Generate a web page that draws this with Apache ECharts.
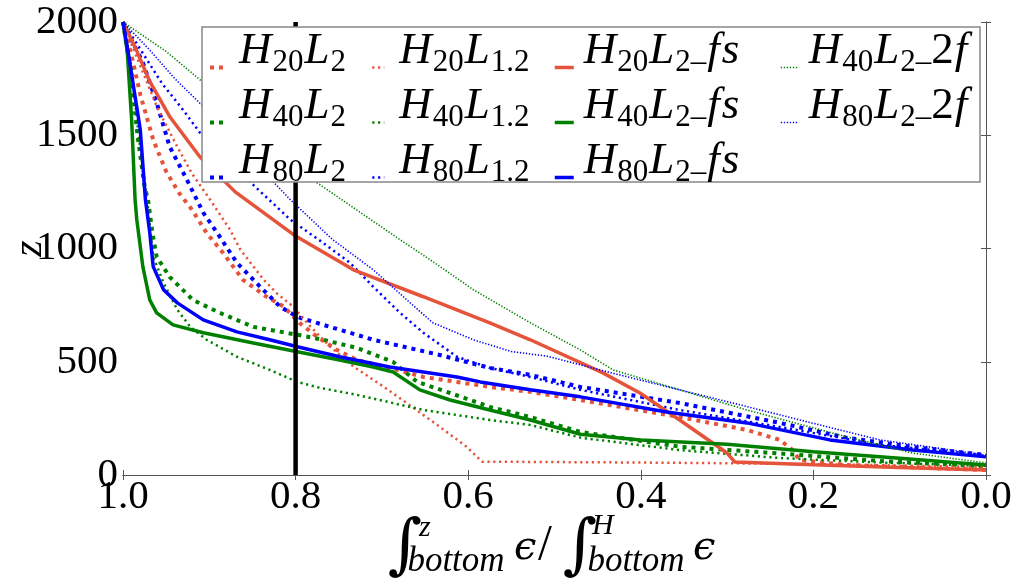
<!DOCTYPE html>
<html><head><meta charset="utf-8">
<script src="https://cdn.jsdelivr.net/npm/echarts@6/dist/echarts.min.js"></script>
<style>html,body{margin:0;padding:0;background:#fff}#c{width:1016px;height:582px}</style>
</head><body><div id="c"></div>
<script>
// ---------------- DATA ----------------
const xTickLabels = ['0.0', '0.2', '0.4', '0.6', '0.8', '1.0'];
const yTickLabels = ['0', '500', '1000', '1500', '2000'];
const refLine = [[0.8, 0], [0.8, 2000]];

const H20L2 = [[1.0,2000],[0.99,1850],[0.98,1680],[0.965,1480],[0.95,1340],[0.935,1245],[0.92,1171],[0.903,1068],[0.884,980],[0.861,862],[0.834,788],[0.814,744],[0.795,670],[0.775,610],[0.752,552],[0.729,508],[0.691,473],[0.652,433],[0.613,411],[0.575,389],[0.528,367],[0.47,331],[0.355,256],[0.277,199],[0.239,155],[0.224,110],[0.216,66],[0.161,44],[0.0,22]];
const H40L2 = [[1.0,2000],[0.99,1746],[0.983,1494],[0.975,1273],[0.971,1215],[0.966,1070],[0.961,964],[0.946,875],[0.919,773],[0.888,716],[0.849,654],[0.798,619],[0.768,597],[0.729,561],[0.687,499],[0.659,411],[0.621,362],[0.575,301],[0.528,256],[0.47,190],[0.355,125],[0.239,95],[0.123,62],[0.0,38]];
const H80L2 = [[1.0,2000],[0.99,1920],[0.977,1821],[0.961,1644],[0.946,1450],[0.926,1304],[0.907,1158],[0.891,1070],[0.868,937],[0.841,831],[0.818,743],[0.798,698],[0.768,663],[0.71,597],[0.633,530],[0.575,473],[0.528,442],[0.47,389],[0.355,318],[0.239,230],[0.161,164],[0.085,124],[0.0,88]];
const H20L1_2 = [[1.0,2000],[0.99,1900],[0.975,1760],[0.96,1620],[0.94,1470],[0.92,1330],[0.899,1215],[0.876,1083],[0.864,995],[0.849,921],[0.837,862],[0.822,803],[0.803,744],[0.783,656],[0.76,567],[0.733,479],[0.698,390],[0.671,317],[0.633,213],[0.602,125],[0.584,59],[0.4,55],[0.3,52],[0.2,48],[0.1,42],[0.0,35]];
const H40L1_2 = [[1.0,2000],[0.99,1800],[0.982,1500],[0.975,1300],[0.972,1215],[0.965,964],[0.953,848],[0.937,729],[0.922,654],[0.903,597],[0.868,522],[0.83,464],[0.798,411],[0.772,385],[0.729,354],[0.652,287],[0.575,243],[0.528,221],[0.47,165],[0.355,110],[0.239,75],[0.123,55],[0.0,40]];
const H80L1_2 = [[1.0,2000],[0.98,1880],[0.955,1730],[0.93,1610],[0.911,1512],[0.86,1320],[0.806,1127],[0.77,1030],[0.737,937],[0.71,831],[0.679,716],[0.652,628],[0.613,522],[0.575,473],[0.528,433],[0.47,376],[0.355,287],[0.239,212],[0.123,133],[0.0,88]];
const H20L2_fs = [[1.0,2000],[0.985,1880],[0.969,1738],[0.946,1583],[0.911,1405],[0.87,1250],[0.8,1055],[0.733,906],[0.652,787],[0.575,672],[0.528,597],[0.444,451],[0.401,362],[0.355,243],[0.3,97],[0.291,57],[0.2,45],[0.1,33],[0.0,22]];
const H40L2_fs = [[1.0,2000],[0.995,1865],[0.99,1569],[0.986,1215],[0.984,1127],[0.977,920],[0.969,773],[0.961,716],[0.942,663],[0.907,628],[0.849,583],[0.798,544],[0.749,508],[0.71,477],[0.687,455],[0.656,376],[0.621,331],[0.575,287],[0.528,243],[0.47,180],[0.4,155],[0.3,136],[0.2,103],[0.1,74],[0.0,44]];
const H80L2_fs = [[1.0,2000],[0.994,1865],[0.98,1525],[0.974,1215],[0.969,1070],[0.965,920],[0.953,818],[0.937,760],[0.907,685],[0.868,632],[0.83,597],[0.798,566],[0.749,522],[0.691,477],[0.613,433],[0.586,411],[0.528,376],[0.47,345],[0.37,278],[0.277,230],[0.181,155],[0.085,110],[0.0,80]];
const H40L2_2f = [[1.0,2000],[0.95,1870],[0.907,1733],[0.85,1530],[0.775,1290],[0.679,1039],[0.644,950],[0.594,818],[0.528,672],[0.47,552],[0.432,464],[0.277,287],[0.161,168],[0.085,97],[0.0,53]];
const H80L2_2f = [[1.0,2000],[0.97,1880],[0.94,1750],[0.907,1627],[0.86,1430],[0.806,1215],[0.757,1039],[0.71,906],[0.671,773],[0.641,672],[0.594,597],[0.55,545],[0.509,525],[0.432,449],[0.355,376],[0.277,302],[0.2,228],[0.123,155],[0.0,88]];

const seriesNames = ['H20L2','H40L2','H80L2','H20L1.2','H40L1.2','H80L1.2','H20L2_fs','H40L2_fs','H80L2_fs','H40L2_2f','H80L2_2f'];
const seriesValues = [H20L2,H40L2,H80L2,H20L1_2,H40L1_2,H80L1_2,H20L2_fs,H40L2_fs,H80L2_fs,H40L2_2f,H80L2_2f];
const legendColumns = [
  ['H20L2','H40L2','H80L2'],
  ['H20L1.2','H40L1.2','H80L1.2'],
  ['H20L2_fs','H40L2_fs','H80L2_fs'],
  ['H40L2_2f','H80L2_2f']
];

// ---------------- STYLE ----------------
const RED = '#E5533A', GREEN = '#008000', BLUE = '#0000FF';
const colorOf = n => n.startsWith('H20') ? RED : n.startsWith('H40') ? GREEN : BLUE;
const lineOf = n => {
  if (n.endsWith('_fs')) return { width: 3.5, type: 'solid' };
  if (n.endsWith('_2f')) return { width: 1.6, type: [1.3, 1.7] };
  if (n.includes('L1.2')) return { width: 2.5, type: [2.2, 3.6] };
  return { width: 4, type: [4, 5] };
};
const SERIF = '"Liberation Serif", "DejaVu Serif", serif';

function legendLabel(name) {
  const m = name.match(/^H(\d+)L([\d.]+)(?:_(\w+))?$/);
  let s = '{i|H}{s|' + m[1] + '}{i|L}{s|' + m[2] + (m[3] ? '\u2013' : '') + '}';
  if (m[3] === 'fs') s += '{i|f}{i|s}';
  else if (m[3] === '2f') s += '{n|2}{i|f}';
  return s;
}
const rich = {
  i: { fontFamily: SERIF, fontStyle: 'italic', fontSize: 45, lineHeight: 52, height: 20, verticalAlign: 'top', color: '#000', padding: [0, 1, 0, 1] },
  n: { fontFamily: SERIF, fontSize: 45, lineHeight: 52, height: 20, verticalAlign: 'top', color: '#000' },
  s: { fontFamily: SERIF, fontSize: 31, lineHeight: 52, height: 42, verticalAlign: 'top', color: '#000' }
};
const legendLayout = [
  { left: 208, itemWidth: 14, pad: 9 },
  { left: 371, itemWidth: 12, pad: 9 },
  { left: 553, itemWidth: 19, pad: 4 },
  { left: 780, itemWidth: 17, pad: 5 }
];

const series = seriesNames.map((n, k) => ({
  name: n, type: 'line', data: seriesValues[k], showSymbol: false, symbol: 'none',
  animation: false, silent: true, z: 2,
  lineStyle: Object.assign({ color: colorOf(n) }, lineOf(n)),
  itemStyle: { color: colorOf(n) }
}));
series.push({
  name: 'ref', type: 'line', data: refLine, showSymbol: false, symbol: 'none',
  animation: false, silent: true, z: 3,
  lineStyle: { color: '#000', width: 4.5 }
});

const legends = legendColumns.map((col, k) => ({
  data: col, orient: 'vertical', left: legendLayout[k].left, top: 29, padding: 0,
  itemGap: 0.5, itemWidth: legendLayout[k].itemWidth, itemHeight: 6,
  selectedMode: false, z: 6,
  itemStyle: { opacity: 0, borderWidth: 0 },
  lineStyle: { width: 'inherit', type: 'inherit' },
  formatter: legendLabel,
  textStyle: { padding: [0, 0, 0, legendLayout[k].pad], rich: rich }
}));

const axisCommon = {
  type: 'value', splitLine: { show: false },
  axisLine: { show: true, lineStyle: { color: '#555', width: 1 } },
  axisTick: { show: true, inside: true, length: 5, lineStyle: { color: '#555' } }
};

const option = {
  backgroundColor: '#fff',
  animation: false,
  grid: { left: 123, right: 30, top: 22, bottom: 107, containLabel: false, outerBoundsMode: 'none' },
  xAxis: [
    Object.assign({}, axisCommon, {
      min: 0, max: 1, interval: 0.2, inverse: true, position: 'bottom',
      axisLabel: { margin: 2, color: '#000', fontFamily: SERIF, fontSize: 41,
        formatter: v => xTickLabels[Math.round(v * 5)] }
    }),
    Object.assign({}, axisCommon, {
      min: 0, max: 1, interval: 0.2, inverse: true, position: 'top',
      axisLabel: { show: false }
    })
  ],
  yAxis: [
    Object.assign({}, axisCommon, {
      min: 0, max: 2000, interval: 500, position: 'left',
      name: 'z', nameLocation: 'middle', nameRotate: 90, nameGap: 93, nameMoveOverlap: false,
      nameTextStyle: { fontFamily: SERIF, fontStyle: 'italic', fontSize: 42, color: '#000', verticalAlign: 'middle' },
      axisLabel: { margin: 5, color: '#000', fontFamily: SERIF, fontSize: 41,
        formatter: v => yTickLabels[Math.round(v / 500)] }
    }),
    Object.assign({}, axisCommon, {
      min: 0, max: 2000, interval: 500, position: 'right',
      axisLabel: { show: false }
    })
  ],
  legend: legends,
  graphic: [
    { type: 'rect', z: 5, silent: true,
      shape: { x: 202, y: 27, width: 778, height: 155 },
      style: { fill: '#fff', stroke: '#888', lineWidth: 1.5 } },
    { type: 'group', silent: true, children: [
      { type: 'text', x: 405, y: 549, style: { text: '\u222B', font: '66px "DejaVu Serif"', fill: '#000', textAlign: 'center', textVerticalAlign: 'middle' } },
      { type: 'text', x: 419, y: 528, style: { text: 'z', font: 'italic 30px ' + SERIF, fill: '#000', textAlign: 'left', textVerticalAlign: 'middle' } },
      { type: 'text', x: 456, y: 562, style: { text: 'bottom', font: 'italic 35px ' + SERIF, fill: '#000', textAlign: 'center', textVerticalAlign: 'middle' } },
      { type: 'text', x: 514, y: 549, style: { text: '\u03F5', font: 'italic 40px "DejaVu Serif"', fill: '#000', textAlign: 'left', textVerticalAlign: 'middle' } },
      { type: 'text', x: 538, y: 546, style: { text: '/', font: '50px ' + SERIF, fill: '#000', textAlign: 'left', textVerticalAlign: 'middle' } },
      { type: 'text', x: 580, y: 549, style: { text: '\u222B', font: '66px "DejaVu Serif"', fill: '#000', textAlign: 'center', textVerticalAlign: 'middle' } },
      { type: 'text', x: 592, y: 526, style: { text: 'H', font: 'italic 30px ' + SERIF, fill: '#000', textAlign: 'left', textVerticalAlign: 'middle' } },
      { type: 'text', x: 636, y: 562, style: { text: 'bottom', font: 'italic 35px ' + SERIF, fill: '#000', textAlign: 'center', textVerticalAlign: 'middle' } },
      { type: 'text', x: 693, y: 549, style: { text: '\u03F5', font: 'italic 40px "DejaVu Serif"', fill: '#000', textAlign: 'left', textVerticalAlign: 'middle' } }
    ]}
  ],
  series: series
};

const chart = echarts.init(document.getElementById('c'), null, { renderer: 'canvas' });
chart.setOption(option);
</script>
</body></html>
